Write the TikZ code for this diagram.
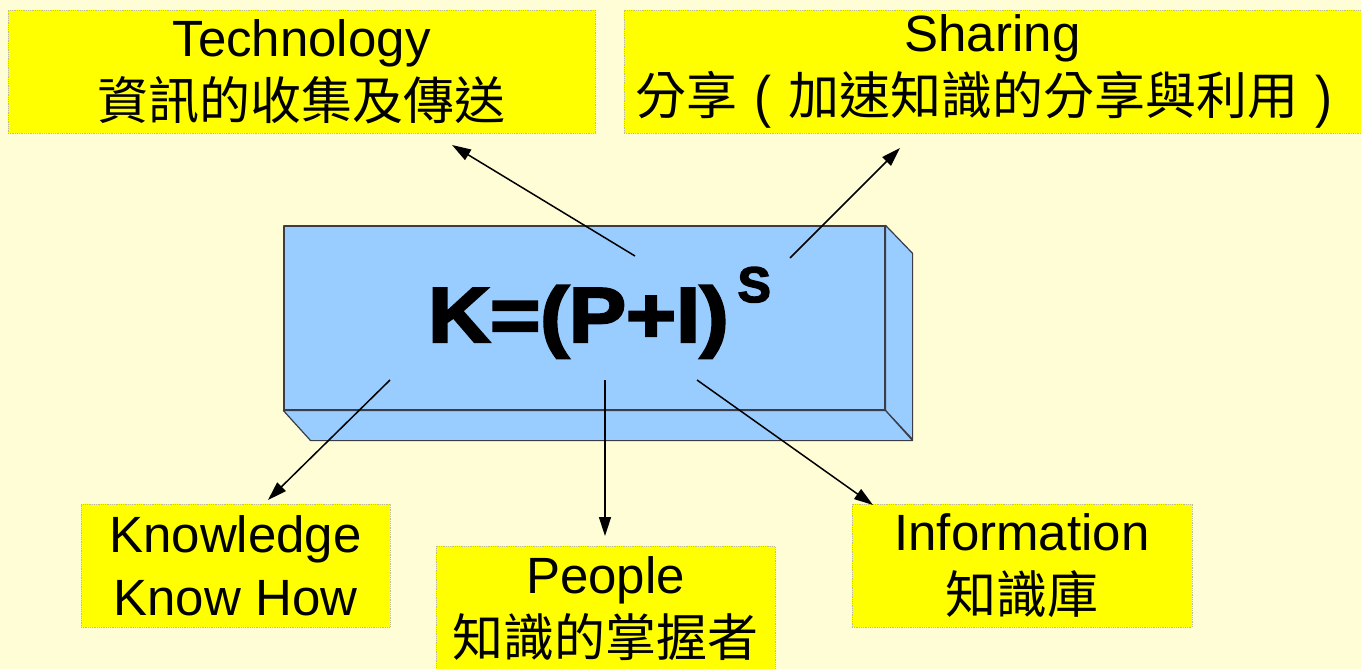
\documentclass[tikz,border=0pt]{standalone}
\usepackage{fontspec}
\setmainfont{Liberation Sans}
\newfontfamily\cjk{Noto Sans CJK TC}
\newfontfamily\heavy[FakeBold=3]{Liberation Sans Bold}
\usetikzlibrary{arrows.meta}
\definecolor{bgcream}{RGB}{255,253,214}
\definecolor{lblyellow}{RGB}{255,255,0}
\definecolor{lbledge}{RGB}{190,190,150}
\definecolor{boxblue}{RGB}{153,204,255}
\definecolor{boxedge}{RGB}{60,60,70}
\newcommand{\cpar}[1]{\makebox[51pt][c]{\raisebox{-2pt}{\scalebox{1}[1.12]{#1}}}}
\begin{document}
\begin{tikzpicture}[x=1pt,y=-1pt,
  lbl/.style={fill=lblyellow, draw=lbledge, densely dotted, line width=0.8pt, inner sep=0pt, align=center, font=\fontsize{51}{63}\selectfont},
  arr/.style={-{Triangle[length=19pt,width=12pt]}, line width=1.5pt, solid, draw=black},
  face/.style={fill=boxblue, draw=boxedge, line width=1.2pt, line join=round}]
\useasboundingbox (0,0) rectangle (1361,669);
\fill[bgcream] (0,0) rectangle (1361,669);
\begin{scope}
\clip (0,0) rectangle (1361,669);
% label boxes
\node[lbl, minimum width=587pt, minimum height=123pt] (tech) at (301.5,71.5) {Technology\\{\cjk 資訊的收集及傳送}};
\node[lbl, minimum width=737pt, minimum height=123pt] (share) at (992.5,71.5) {Sharing\\{\cjk 分享}\cpar{(}{\cjk 加速知識的分享與利用}\cpar{)}};
\node[lbl, minimum width=309pt, minimum height=123pt] (know) at (235.5,565.5) {Knowledge\\Know How};
\node[lbl, minimum width=339pt, minimum height=125pt, anchor=north] (people) at (605.5,546) {People\\{\cjk 知識的掌握者}};
\node[lbl, minimum width=340pt, minimum height=123pt] (info) at (1022,565.5) {Information\\{\cjk 知識庫}};
% 3D box
\node[face, minimum width=601pt, minimum height=184pt, inner sep=0pt] (core) at (584.5,318) {};
\draw[face] (core.north east) -- ++(27,28) -- ++(0,186) -- (core.south east) -- cycle;
\draw[face] (core.south west) -- (core.south east) -- ++(27,30) -- ++(-602,0) -- cycle;
\node[anchor=base west, inner sep=0pt, font=\heavy\fontsize{78}{78}\selectfont] (formula) at (428,342) {\scalebox{1.1}[1]{K=(P+I)}\hspace{9pt}\raisebox{40pt}{\fontsize{50}{50}\selectfont S}};
% arrows
\coordinate (sT) at (635,256); \coordinate (eT) at (452,145);
\coordinate (sS) at (790,258); \coordinate (eS) at (900,148);
\coordinate (sK) at (390,380); \coordinate (eK) at (268,500);
\coordinate (sP) at (605,380); \coordinate (eP) at (605,536);
\coordinate (sI) at (697,380); \coordinate (eI) at (873,505);
\draw[arr] (sT) -- (eT);
\draw[arr] (sS) -- (eS);
\draw[arr] (sK) -- (eK);
\draw[arr] (sP) -- (eP);
\draw[arr] (sI) -- (eI);
\end{scope}
\end{tikzpicture}
\end{document}
